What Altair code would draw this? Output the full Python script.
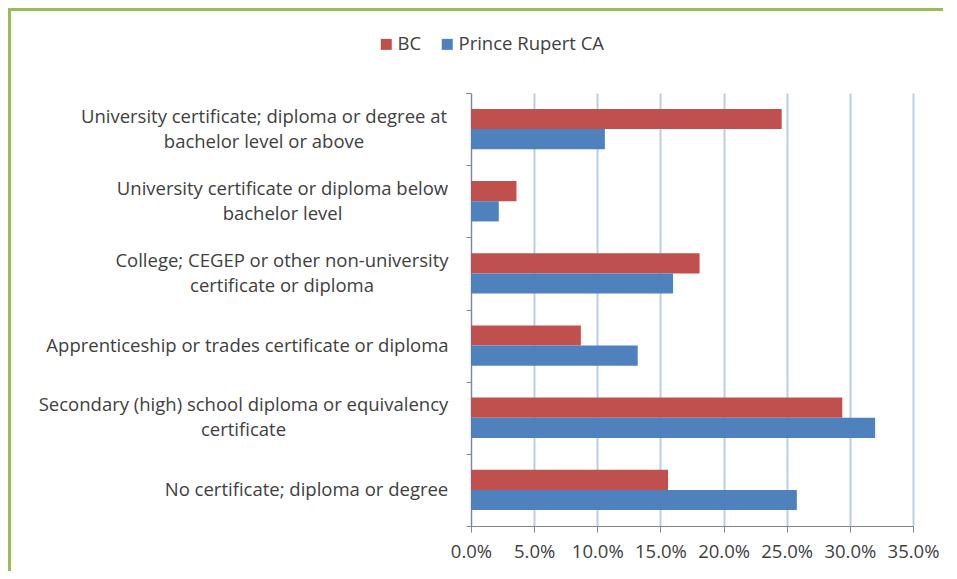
import altair as alt
import pandas as pd

categories = [
    "University certificate; diploma or degree at\nbachelor level or above",
    "University certificate or diploma below\nbachelor level",
    "College; CEGEP or other non-university\ncertificate or diploma",
    "Apprenticeship or trades certificate or diploma",
    "Secondary (high) school diploma or equivalency\ncertificate",
    "No certificate; diploma or degree",
]
series = ["BC", "Prince Rupert CA"]
bc_values = [0.246, 0.036, 0.181, 0.087, 0.294, 0.156]
pr_values = [0.106, 0.022, 0.160, 0.132, 0.320, 0.258]
x_ticks = [0, 0.05, 0.10, 0.15, 0.20, 0.25, 0.30, 0.35]

# layout only: distance (px) left of the axis to the centre of each label block
label_centre_x = [207, 188.5, 189, 223.5, 227.5, 164.5]

rows = []
for c, b, p in zip(categories, bc_values, pr_values):
    rows.append({"category": c, "series": series[0], "value": b})
    rows.append({"category": c, "series": series[1], "value": p})
df = pd.DataFrame(rows)

FONT = "Open Sans"
FS = 18.5
TXT = "#404040"
LH = 25
W, H = 442, 433
STEP = H / len(categories)
AXIS_GRAY = "#868686"

y_enc = alt.Y("category:N", sort=categories,
              scale=alt.Scale(paddingInner=0.44, paddingOuter=0.22),
              axis=alt.Axis(title=None, tickSize=5, tickOffset=STEP / 2, labels=False,
                            domainColor=AXIS_GRAY, tickColor=AXIS_GRAY, grid=False))

bars = alt.Chart(df).mark_bar().encode(
    y=y_enc,
    yOffset=alt.YOffset("series:N", sort=series),
    x=alt.X("value:Q", scale=alt.Scale(domain=[0, 0.35], nice=False),
            axis=alt.Axis(title=None, values=x_ticks, format=".1%", tickSize=6,
                          labelOverlap=False, labelFlush=False,
                          labelFont=FONT, labelFontSize=FS, labelColor=TXT, labelPadding=10,
                          domainColor=AXIS_GRAY, tickColor=AXIS_GRAY,
                          grid=True, gridColor="#B9CDEB", gridWidth=2)),
    color=alt.Color("series:N", sort=series,
                    scale=alt.Scale(domain=series, range=["#C0504D", "#4F81BD"]),
                    legend=alt.Legend(title=None, orient="none", direction="horizontal",
                                      legendX=-94, legendY=-58,
                                      symbolType="square", symbolSize=121,
                                      labelOffset=2,
                                      labelFont=FONT, labelFontSize=FS, labelColor=TXT,
                                      columnPadding=16, symbolStrokeWidth=0)),
)

label_layers = []
for c, cx in zip(categories, label_centre_x):
    n_lines = len(c.split("\n"))
    sub = pd.DataFrame({"category": [c]})
    label_layers.append(
        alt.Chart(sub).mark_text(align="center", baseline="middle", lineBreak="\n",
                                 lineHeight=LH, font=FONT, fontSize=FS, color=TXT,
                                 dy=-(n_lines - 1) * LH / 2).encode(
            y=alt.Y("category:N", sort=categories),
            x=alt.value(-cx),
            text="category:N",
        )
    )

top_tick = alt.Chart(df).mark_rule(color=AXIS_GRAY, strokeWidth=1).encode(
    x=alt.value(-5), x2=alt.value(0), y=alt.value(0.5))

frame_top = alt.Chart(df).mark_rule(color="#9BBB59", strokeWidth=3).encode(
    x=alt.value(-463), x2=alt.value(500), y=alt.value(-84))
frame_left = alt.Chart(df).mark_rule(color="#9BBB59", strokeWidth=3).encode(
    x=alt.value(-461.5), y=alt.value(-85), y2=alt.value(600))

chart = alt.layer(bars, *label_layers, top_tick, frame_top, frame_left).properties(
    width=W, height=H,
    autosize=alt.AutoSizeParams(type="none"),
    padding={"left": 463, "top": 85, "right": 30, "bottom": 45},
).configure_view(stroke=None)

chart.save("out.html", embed_options={"renderer": "svg", "actions": False})
